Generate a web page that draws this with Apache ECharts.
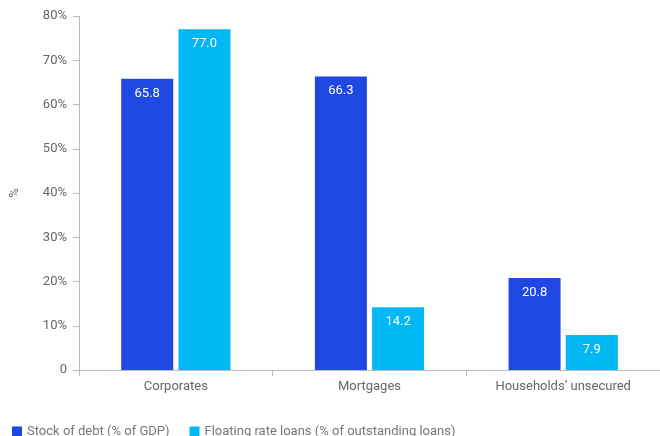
<!DOCTYPE html>
<html><head><meta charset="utf-8">
<script src="https://cdn.jsdelivr.net/npm/echarts@6/dist/echarts.min.js"></script>
<style>html,body{margin:0;padding:0;background:#fff}#c{width:660px;height:436px}</style>
</head><body><div id="c"></div>
<script>
const categories = ["Corporates", "Mortgages", "Households\u2019 unsecured"];
const stockOfDebt = [65.8, 66.3, 20.8];
const floatingRate = [77.0, 14.2, 7.9];
const seriesNames = ["Stock of debt (% of GDP)", "Floating rate loans (% of outstanding loans)"];
const colors = ["#1f48e2", "#00b8f4"];

const chart = echarts.init(document.getElementById('c'), null, {renderer: 'canvas'});
const lbl = {show: true, position: 'insideTop', color: '#fff', fontSize: 13, fontFamily: 'Roboto', distance: 8, formatter: p => p.value.toFixed(1)};
chart.setOption({
  animation: false,
  textStyle: {fontFamily: 'Roboto'},
  grid: {left: 75, right: -2, top: 16, bottom: 66, containLabel: false},
  legend: {
    left: 7, top: 420, itemWidth: 10, itemHeight: 10, itemGap: 20, icon: 'rect',
    textStyle: {color: '#777', fontSize: 13, fontFamily: 'Roboto'},
    data: seriesNames
  },
  xAxis: {
    type: 'category', data: categories,
    axisLine: {lineStyle: {color: '#bbb'}},
    axisTick: {show: true, length: 6, lineStyle: {color: '#bbb'}},
    axisLabel: {color: '#666', fontSize: 13, margin: 10}
  },
  yAxis: {
    type: 'value', min: 0, max: 80, interval: 10,
    name: '%', nameLocation: 'middle', nameGap: 58, nameRotate: 90,
    nameTextStyle: {color: '#666', fontSize: 13},
    axisLine: {show: true, lineStyle: {color: '#bbb'}},
    axisTick: {show: true, length: 6, lineStyle: {color: '#bbb'}},
    splitLine: {show: false},
    axisLabel: {color: '#666', fontSize: 13, margin: 12, formatter: v => v === 0 ? '0' : v + '%'}
  },
  series: [
    {name: seriesNames[0], type: 'bar', data: stockOfDebt, barWidth: 52, barGap: '10%', itemStyle: {color: colors[0]}, label: lbl},
    {name: seriesNames[1], type: 'bar', data: floatingRate, barWidth: 52, itemStyle: {color: colors[1]}, label: lbl}
  ]
});
</script></body></html>
